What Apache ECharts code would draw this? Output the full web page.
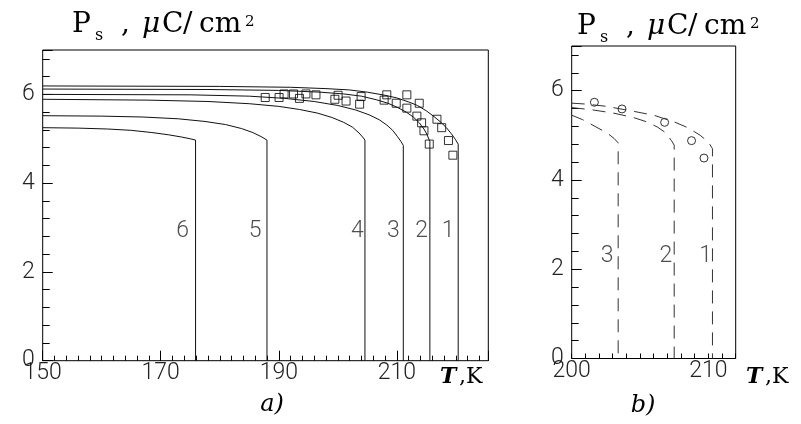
<!DOCTYPE html>
<html><head><meta charset="utf-8">
<script src="https://cdn.jsdelivr.net/npm/echarts@6/dist/echarts.min.js"></script>
<style>html,body{margin:0;padding:0;background:#fff}#c{width:801px;height:424px}</style>
</head><body><div id="c"></div>
<script>
// ---- Panel a) : solid theoretical curves (T in K, Ps in uC/cm^2) ----
const curveA1 = [[150,6.19],[180,6.18],[192,6.16],[198,6.13],[202,6.1],[205,6.05],[208,5.98],[210,5.92],[212,5.83],[213.5,5.75],[215,5.63],[216.3,5.5],[217.4,5.38],[218.4,5.25],[219.2,5.12],[219.9,4.99],[220.4,4.88],[220.4,0]];
const curveA2 = [[150,6.12],[178,6.11],[190,6.09],[197,6.05],[201,6.01],[204,5.96],[206.5,5.88],[208.5,5.8],[210.2,5.7],[211.6,5.6],[212.8,5.49],[213.8,5.36],[214.6,5.22],[215.1,5.1],[215.6,4.94],[215.6,0]];
const curveA3 = [[150,6.0],[175,5.99],[185,5.96],[191,5.91],[196,5.84],[200,5.75],[203,5.65],[205.3,5.54],[207,5.43],[208.3,5.31],[209.3,5.19],[210.1,5.05],[210.7,4.94],[211.1,4.85],[211.1,0]];
const curveA4 = [[150,5.89],[168,5.87],[178,5.84],[185,5.79],[190,5.73],[193.5,5.66],[196.5,5.58],[199,5.48],[201,5.37],[202.5,5.26],[203.6,5.13],[204.2,5.04],[204.6,4.97],[204.6,0]];
const curveA5 = [[150,5.52],[160,5.51],[167,5.49],[173,5.45],[177.5,5.39],[181,5.32],[183.7,5.23],[185.6,5.14],[187,5.05],[188,4.97],[188,0]];
const curveA6 = [[150,5.25],[156,5.24],[161,5.22],[165,5.19],[168.5,5.14],[171.3,5.09],[173.5,5.04],[175,5.0],[175.9,4.97],[175.9,0]];
// experimental squares
const squaresA = [[187.7,5.93],[190.05,5.93],[190.9,6.01],[192.5,6.01],[193.5,5.91],[194.6,6.01],[196.3,5.99],[199.5,5.89],[200.05,5.98],[201.4,5.85],[203.7,5.78],[203.95,5.95],[207.85,5.87],[208.3,5.99],[209.9,5.80],[211.7,5.99],[211.7,5.69],[213.8,5.80],[213.4,5.51],[214.2,5.36],[214.6,5.18],[215.5,4.88],[216.8,5.44],[217.6,5.25],[218.75,4.96],[219.5,4.63]];
const labelsA = [[173.7,2.91,'6'],[186.0,2.91,'5'],[203.3,2.91,'4'],[209.4,2.91,'3'],[214.2,2.91,'2'],[218.7,2.91,'1']];
const xLabelsA = [150,170,190,210];

// ---- Panel b) : dashed curves ----
const curveB1 = [[200,5.72],[201,5.7],[202.5,5.65],[204.3,5.55],[206,5.45],[207.5,5.3],[208.5,5.17],[209.4,5.0],[210.0,4.85],[210.3,4.7],[210.3,0]];
const curveB2 = [[200,5.62],[201.5,5.57],[203,5.5],[204.5,5.4],[205.5,5.3],[206.3,5.18],[206.9,5.05],[207.3,4.88],[207.5,4.78],[207.5,0]];
const curveB3 = [[200,5.45],[200.8,5.35],[201.7,5.2],[202.6,5.05],[203.1,4.93],[203.4,4.83],[203.4,0]];
const circlesB = [[201.66,5.74],[203.68,5.59],[206.8,5.29],[208.77,4.88],[209.68,4.49]];
const labelsB = [[202.6,2.28,'3'],[206.9,2.28,'2'],[209.8,2.28,'1']];
const xLabelsB = [200,210];
const yLabels = [0,2,4,6];

const tickFont = {fontFamily:'Roboto', fontWeight:300, fontSize:23, color:'#222'};
const serif = '"DejaVu Serif"';

const chart = echarts.init(document.getElementById('c'), null, {renderer:'canvas'});

function minorX(grid, min, max, interval, len, labels){
  return {gridIndex:grid, type:'value', min:min, max:max, interval:interval, position:'bottom',
    axisLine:{show:false}, splitLine:{show:false},
    axisTick:{show:true, inside:true, length:len, lineStyle:{color:'#000', width:1}},
    axisLabel: labels ? Object.assign({show:true, margin:1, formatter:v=>labels.indexOf(Math.round(v*100)/100)>=0?String(v):''}, tickFont) : {show:false}};
}
function minorY(grid, interval, len, labels){
  return {gridIndex:grid, type:'value', min:0, max:7, interval:interval, position:'left',
    axisLine:{show:false}, splitLine:{show:false},
    axisTick:{show:true, inside:true, length:len, lineStyle:{color:'#000', width:1}},
    axisLabel: labels ? Object.assign({show:true, margin:8, formatter:v=>labels.indexOf(Math.round(v*100)/100)>=0?String(v):''}, tickFont) : {show:false}};
}

function solid(data){
  return {type:'line', xAxisIndex:0, yAxisIndex:0, data:data, symbol:'none', showSymbol:false, silent:true,
    lineStyle:{color:'#111', width:1}};
}
function dashed(data){
  return {type:'line', xAxisIndex:2, yAxisIndex:2, data:data, symbol:'none', showSymbol:false, silent:true,
    lineStyle:{color:'#333', width:1, type:[13,8]}};
}
function labelSeries(data, xi, yi){
  return {type:'scatter', xAxisIndex:xi, yAxisIndex:yi, data:data, symbolSize:0, silent:true,
    label:Object.assign({show:true, position:'inside', formatter:p=>p.value[2]}, tickFont)};
}

function title(x0, y0){
  const base = {type:'text', silent:true};
  const mk = (x,y,text,font)=>Object.assign({}, base, {x:x0+x, y:y0+y, style:{text:text, font:font, fill:'#000', textAlign:'left', textVerticalAlign:'middle'}});
  return [
    mk(0,25,'P','28px '+serif),
    mk(23,36,'s','16px '+serif),
    mk(49,25,',','28px '+serif),
    mk(70,25,'\u03bc','italic 28px '+serif),
    mk(90,25,'C','28px '+serif),
    mk(111,25,'/','28px '+serif),
    mk(127,25,'cm','28px '+serif),
    mk(173,22,'2','15px '+serif)
  ];
}
function tk(x){
  return [
    {type:'text', silent:true, x:x, y:377, style:{text:'T', font:'italic bold 22px '+serif, fill:'#000', textAlign:'left', textVerticalAlign:'middle'}},
    {type:'text', silent:true, x:x+19, y:377, style:{text:',K', font:'22px '+serif, fill:'#000', textAlign:'left', textVerticalAlign:'middle'}}
  ];
}

const option = {
  animation:false,
  backgroundColor:'#fff',
  grid:[
    {left:42.7, top:50, width:445.6, height:310.7, show:true, borderColor:'#000', borderWidth:1, backgroundColor:'transparent'},
    {left:571.7, top:46, width:164, height:312.5, show:true, borderColor:'#000', borderWidth:1, backgroundColor:'transparent'}
  ],
  xAxis:[
    minorX(0,150,225.5,2,5,null),
    minorX(0,150,225.5,20,10,xLabelsA),
    minorX(1,200,212,1,5,xLabelsB)
  ],
  yAxis:[
    minorY(0,0.4,7,null),
    minorY(0,2,10,yLabels),
    minorY(1,0.4,7,null),
    minorY(1,2,10,yLabels)
  ],
  series:[
    solid(curveA1), solid(curveA2), solid(curveA3), solid(curveA4), solid(curveA5), solid(curveA6),
    {type:'scatter', xAxisIndex:0, yAxisIndex:0, data:squaresA, symbol:'rect', symbolSize:8, silent:true,
      itemStyle:{color:'rgba(0,0,0,0)', borderColor:'#000', borderWidth:1}},
    labelSeries(labelsA,0,0),
    dashed(curveB1), dashed(curveB2), dashed(curveB3),
    {type:'scatter', xAxisIndex:2, yAxisIndex:2, data:circlesB, symbol:'circle', symbolSize:8, silent:true,
      itemStyle:{color:'rgba(0,0,0,0)', borderColor:'#000', borderWidth:1}},
    labelSeries(labelsB,2,2)
  ],
  graphic:[].concat(
    title(72,0), title(577,2), tk(440), tk(746),
    [{type:'text', silent:true, x:272, y:405, style:{text:'a)', font:'italic 24px '+serif, fill:'#000', textAlign:'center', textVerticalAlign:'middle'}},
     {type:'text', silent:true, x:643, y:406, style:{text:'b)', font:'italic 24px '+serif, fill:'#000', textAlign:'center', textVerticalAlign:'middle'}}]
  )
};
chart.setOption(option);
</script>
</body></html>
